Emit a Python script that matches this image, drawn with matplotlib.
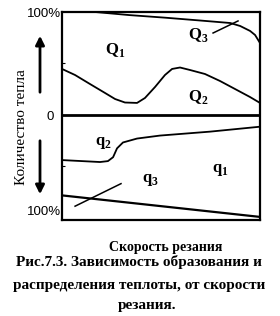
import matplotlib
matplotlib.use("Agg")
import matplotlib.pyplot as plt

plt.rcParams["mathtext.fontset"] = "custom"
plt.rcParams["mathtext.rm"] = "Liberation Serif"
plt.rcParams["mathtext.bf"] = "Liberation Serif:bold"

# cutting speed (0..100 % of axis) and heat share (+ up: Q, - down: q)
q3_top_x = [16.7, 34, 52, 70, 85, 90, 95, 97.5, 100]
q3_top_y = [100, 97, 94.5, 91.7, 89.3, 86.4, 81.6, 77.7, 69.9]

q2_top_x = [0, 6.6, 14.1, 21.7, 26.8, 31.8, 37.9, 41.9, 47, 52, 55.6, 59.6, 64.6, 72.2, 79.8, 87.4, 94.9, 100]
q2_top_y = [44.7, 38.8, 30.1, 21.4, 15.5, 12.1, 11.7, 16.5, 27.2, 38.8, 44.7, 46.1, 43.7, 39.8, 33, 25.2, 17.5, 11.7]

q2_low_x = [0, 19.2, 23.2, 25.8, 27.8, 30.8, 37.9, 49.5, 74.7, 100]
q2_low_y = [-43.8, -45.7, -44.8, -41, -32.4, -26.7, -22.9, -20, -16.2, -11.4]

q3_low_x = [0, 100]
q3_low_y = [-78.1, -99]

labels = [("Q", "1", 26.8, 63), ("Q", "3", 68.7, 77.7), ("Q", "2", 68.7, 17.5),
          ("q", "2", 20.7, -26.7), ("q", "1", 79.8, -52.4), ("q", "3", 44.4, -61.9)]

fig = plt.figure(figsize=(2.8, 3.16), dpi=100)
ax = fig.add_axes([62 / 280, 1 - 220 / 316, 198 / 280, 208 / 316])
ax.set_xlim(0, 100)
ax.set_ylim(-102, 100)
for s in ax.spines.values():
    s.set_linewidth(1.6)
ax.set_xticks([])
ax.set_yticks([50, -50])
ax.tick_params(axis="y", direction="in", length=2, labelleft=False)

lw = 1.3
ax.axhline(0, color="black", lw=2)
ax.plot(q3_top_x, q3_top_y, color="black", lw=lw)
ax.plot(q2_top_x, q2_top_y, color="black", lw=lw)
ax.plot(q2_low_x, q2_low_y, color="black", lw=lw)
ax.plot(q3_low_x, q3_low_y, color="black", lw=1.6)
# leader lines
ax.plot([76.3, 88.9], [79.6, 91.3], color="black", lw=1.1)
ax.plot([6.6, 29.8], [-88.6, -66.7], color="black", lw=1.1)

for letter, idx, x, y in labels:
    ax.text(x, y, r"$\mathbf{%s}_\mathbf{%s}$" % (letter, idx), fontsize=12,
            ha="center", va="center")

# left side labels
fig.text(61 / 280, 1 - 14 / 316, "100%", ha="right", va="center",
         fontsize=9.5, family="Liberation Sans")
fig.text(50 / 280, 1 - 117 / 316, "0", ha="center", va="center",
         fontsize=9.5, family="Liberation Sans")
fig.text(61 / 280, 1 - 212 / 316, "100%", ha="right", va="center",
         fontsize=9.5, family="Liberation Sans")
fig.text(22 / 280, 1 - 127 / 316, "Количество тепла", rotation=90,
         ha="center", va="center", fontsize=11, family="Liberation Serif")

arrow = dict(arrowstyle="-|>", color="black", lw=2, mutation_scale=13)
fig.add_artist(matplotlib.patches.FancyArrowPatch(
    (40 / 280, 1 - 95 / 316), (40 / 280, 1 - 33 / 316),
    transform=fig.transFigure, **arrow))
fig.add_artist(matplotlib.patches.FancyArrowPatch(
    (40 / 280, 1 - 138 / 316), (40 / 280, 1 - 197 / 316),
    transform=fig.transFigure, **arrow))

# x label and caption
fig.text(166 / 280, 1 - 248 / 316, "Скорость резания", ha="center", va="center",
         fontsize=10, family="Liberation Serif", weight="bold")
cap = ["Рис.7.3. Зависимость образования и",
       "распределения теплоты, от скорости",
       "резания."]
cap_x = [139, 139, 147]
cap_y = [262, 285, 306]
for t, x, y in zip(cap, cap_x, cap_y):
    fig.text(x / 280, 1 - y / 316, t, ha="center", va="center",
             fontsize=11, family="Liberation Serif", weight="bold")

fig.savefig("out.png", dpi=100)
